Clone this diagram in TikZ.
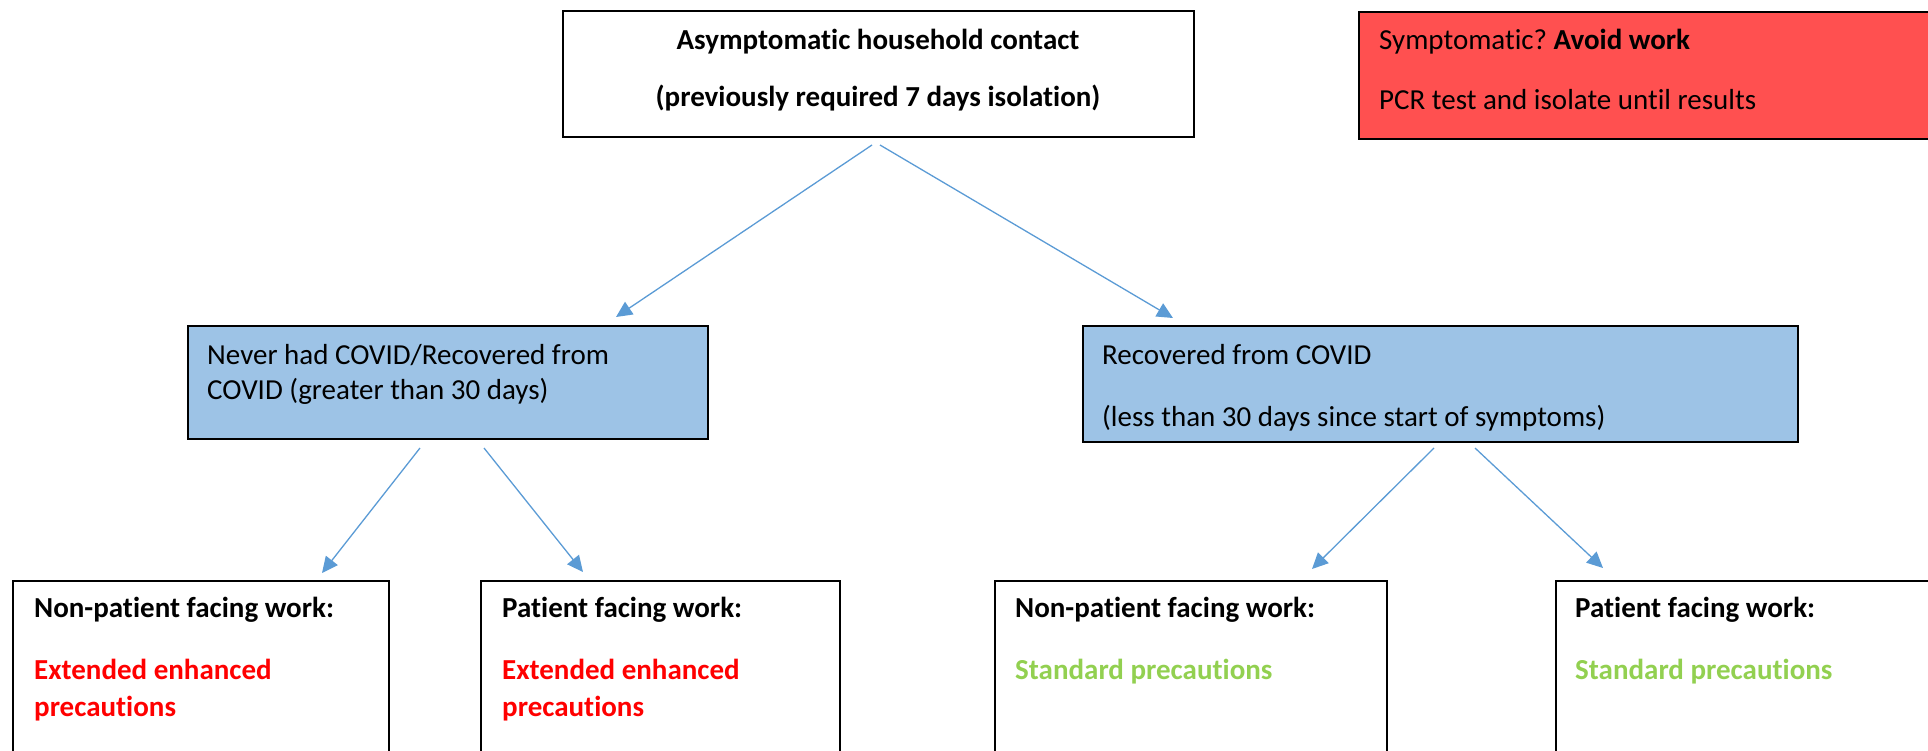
\documentclass[tikz,border=0pt]{standalone}
\usepackage{fontspec}
\setmainfont{Carlito}[Ligatures=NoCommon]
\usepackage{xcolor}
\usetikzlibrary{arrows.meta}
\definecolor{boxblue}{HTML}{9DC3E6}
\definecolor{alertred}{HTML}{FF5050}
\definecolor{arrowblue}{HTML}{5B9BD5}
\definecolor{keepred}{HTML}{FF0000}
\definecolor{keepgreen}{HTML}{92D050}
\frenchspacing

\begin{document}
\begin{tikzpicture}[x=1pt,y=-1pt,
	box/.style={draw=black,line width=2pt,anchor=north west,inner sep=0pt},
	txt/.style={anchor=base west,inner sep=0pt,font=\fontsize{29}{35}\selectfont},
	btxt/.style={txt,font=\fontsize{29}{35}\selectfont\bfseries},
	arr/.style={arrowblue,line width=1.3pt,-{Triangle[length=16pt,width=15pt]}}]
	\path[use as bounding box,clip] (0,0) rectangle (1928,750);
	
	% top row
	\node[box,minimum width=631,minimum height=126] (top) at (562,10) {};
	\node[btxt,anchor=base] (top1) at (878,49) {Asymptomatic household contact};
	\node[btxt,anchor=base] (top2) at (878,106) {(previously required 7 days isolation)};
	
	\node[box,fill=alertred,minimum width=600,minimum height=127] (symp) at (1358,11) {};
	\node[txt] (symp1) at (1379,49) {Symptomatic? \textbf{Avoid work}};
	\node[txt] (symp2) at (1379,109) {PCR test and isolate until results};
	
	% middle row
	\node[box,fill=boxblue,minimum width=520,minimum height=113] (midL) at (187,325) {};
	\node[txt] (midL1) at (207,364) {Never had COVID/Recovered from};
	\node[txt] (midL2) at (207,399) {COVID (greater than 30 days)};
	
	\node[box,fill=boxblue,minimum width=715,minimum height=116] (midR) at (1082,325) {};
	\node[txt] (midR1) at (1102,364) {Recovered from COVID};
	\node[txt] (midR2) at (1102,426) {(less than 30 days since start of symptoms)};
	
	% bottom row
	\foreach \n/\x/\w in {A/12/376,B/480/359,C/994/392,D/1555/400}
		\node[box,minimum width=\w,minimum height=220] (bot\n) at (\x,580) {};
	
	\foreach \n/\x in {A/34,C/1015}
		\node[btxt] (title\n) at (\x,617) {Non-patient facing work:};
	\foreach \n/\x in {B/502,D/1575}
		\node[btxt] (title\n) at (\x,617) {Patient facing work:};
	
	\foreach \n/\x in {A/34,B/502} {
		\node[btxt,text=keepred] (ext\n) at (\x,679) {Extended enhanced};
		\node[btxt,text=keepred] (pre\n) at (\x,716) {precautions};
	}
	\foreach \n/\x in {C/1015,D/1575}
		\node[btxt,text=keepgreen] (std\n) at (\x,679) {Standard precautions};
	
	% connectors
	\draw[arr] ([xshift=-6.5pt,yshift=-7pt]top.south) -- ([xshift=429pt,yshift=8pt]midL.north west);
	\draw[arr] ([xshift=1.5pt,yshift=-7pt]top.south) -- ([xshift=91pt,yshift=7pt]midR.north west);
	
	\draw[arr] ([xshift=233pt,yshift=-8pt]midL.south west) -- ([xshift=310pt,yshift=7pt]botA.north west);
	\draw[arr] ([xshift=297pt,yshift=-8pt]midL.south west) -- ([xshift=103pt,yshift=8pt]botB.north west);
	\draw[arr] ([xshift=352pt,yshift=-5pt]midR.south west) -- ([xshift=318pt,yshift=11pt]botC.north west);
	\draw[arr] ([xshift=393pt,yshift=-5pt]midR.south west) -- ([xshift=48pt,yshift=12pt]botD.north west);
\end{tikzpicture}
\end{document}
